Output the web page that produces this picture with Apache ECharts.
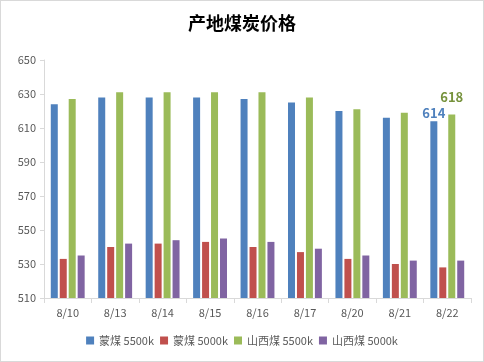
<!DOCTYPE html>
<html><head><meta charset="utf-8">
<script src="https://cdn.jsdelivr.net/npm/echarts@6/dist/echarts.min.js"></script>
<style>html,body{margin:0;padding:0;background:#fff}#c{width:484px;height:362px;box-sizing:border-box;border:1px solid #d9d9d9}</style>
</head><body><div id="c"></div>
<script>
var categories = ['8/10','8/13','8/14','8/15','8/16','8/17','8/20','8/21','8/22'];
var seriesNames = ['蒙煤 5500k','蒙煤 5000k','山西煤 5500k','山西煤 5000k'];
var mengmei5500 = [624, 628, 628, 628, 627, 625, 620, 616, 614];
var mengmei5000 = [533, 540, 542, 543, 540, 537, 533, 530, 528];
var shanxi5500  = [627, 631, 631, 631, 631, 628, 621, 619, 618];
var shanxi5000  = [535, 542, 544, 545, 543, 539, 535, 532, 532];
var yTicks = [510, 530, 550, 570, 590, 610, 630, 650];

var colors = ['#4F81BD','#C0504D','#9BBB59','#8064A2'];
var font = 'Noto Sans CJK SC, sans-serif';
function lastLabel(data, color, dist) {
  return data.map(function(v, i){
    if (i === data.length - 1 && color) {
      return {value: v, label: {show: true, position: 'top', distance: dist, color: color, fontWeight: 'bold', fontSize: 13, fontFamily: font}};
    }
    return v;
  });
}
var chart = echarts.init(document.getElementById('c'));
chart.setOption({
  animation: false,
  color: colors,
  title: {text: '产地煤炭价格', left: 'center', top: 8, textStyle: {fontSize: 18, fontWeight: 'bold', color: '#000', fontFamily: font}},
  legend: {bottom: 10, left: 'center', itemWidth: 8, itemHeight: 8, itemGap: 6, icon: 'rect',
    textStyle: {fontSize: 11, color: '#595959', fontFamily: font}, data: seriesNames},
  grid: {left: 43, right: 12, top: 59, bottom: 63},
  xAxis: {type: 'category', data: categories,
    axisLine: {lineStyle: {color: '#d9d9d9'}},
    axisTick: {show: true, length: 5, lineStyle: {color: '#d9d9d9'}},
    axisLabel: {color: '#595959', fontSize: 11, margin: 9, fontFamily: font}},
  yAxis: {type: 'value', min: yTicks[0], max: yTicks[yTicks.length-1], interval: 20,
    axisLine: {show: true, lineStyle: {color: '#d9d9d9'}},
    axisTick: {show: true, length: 4, inside: false, lineStyle: {color: '#d9d9d9'}},
    splitLine: {show: false},
    axisLabel: {color: '#595959', fontSize: 11, margin: 8, fontFamily: font}},
  series: [
    {name: seriesNames[0], type: 'bar', barWidth: 7, barGap: '28%', data: lastLabel(mengmei5500, '#4F81BD', 2)},
    {name: seriesNames[1], type: 'bar', barWidth: 7, barGap: '28%', data: mengmei5000},
    {name: seriesNames[2], type: 'bar', barWidth: 7, barGap: '28%', data: lastLabel(shanxi5500, '#76923C', 11)},
    {name: seriesNames[3], type: 'bar', barWidth: 7, barGap: '28%', data: shanxi5000}
  ]
});
</script></body></html>
